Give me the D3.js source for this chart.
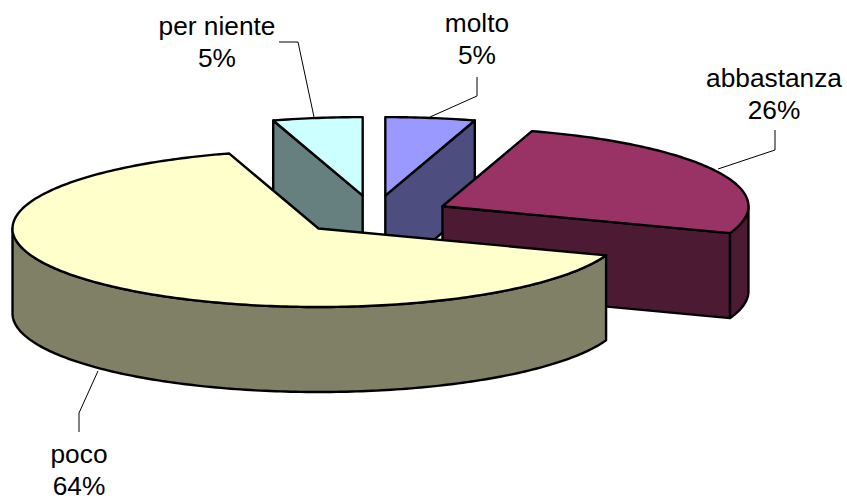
<!DOCTYPE html>
<html>
<head>
<meta charset="utf-8">
<script src="https://cdn.jsdelivr.net/npm/d3@7"></script>
<style>
  html, body { margin: 0; background: #fff; }
  text { font-family: "Liberation Sans", Arial, sans-serif; font-size: 26.3px; fill: #000; }
</style>
</head>
<body>
<div id="chart"></div>
<script>
// values
const categories = ["molto", "abbastanza", "poco", "per niente"];
const values = [4.7, 25.7, 64.4, 4.7];
const topColors = ["#9999ff", "#993366", "#ffffcc", "#ccffff"];
const sideColors = ["#4d4d80", "#4d1a33", "#808066", "#668080"];

// layout of the labels and their leader lines, same order as categories
const labelX = [477, 774, 79, 217];
const labelY = [32, 87, 463, 35];
const leaders = [
  [[430, 117], [477, 96], [477, 77]],
  [[718, 169], [775, 150], [775, 130]],
  [[98, 371], [79, 413], [79, 432]],
  [[279, 42], [298, 42], [314, 117]]
];

const width = 847, height = 500;
const centerX = 374, centerY = 215;
const depth = 85;
const explode = 0.25;

const svg = d3.select("#chart").append("svg")
    .attr("width", width)
    .attr("height", height)
    .style("display", "block");

// tilted pie: sin/cos of the angle go to pixels on an ellipse
const xScale = d3.scaleLinear().domain([-1, 1]).range([-306, 306]);
const yScale = d3.scaleLinear().domain([-1, 1]).range([78.5, -78.5]);

const pie = d3.pie().sort(null);
const slices = pie(values).map(function(d, i) {
    const mid = (d.startAngle + d.endAngle) / 2;
    d.name = categories[i];
    d.index = i;
    d.apexX = centerX + explode * xScale(Math.sin(mid));
    d.apexY = centerY + explode * yScale(Math.cos(mid));
    return d;
});

const line = d3.line();

function rim(d, a, drop) {
    return [d.apexX + xScale(Math.sin(a)), d.apexY + yScale(Math.cos(a)) + drop];
}

function arcPoints(d, a0, a1, drop) {
    const n = Math.max(2, Math.ceil((a1 - a0) * 60));
    return d3.range(n + 1).map(function(k) {
        return rim(d, a0 + (a1 - a0) * k / n, drop);
    });
}

function topFace(d) {
    return line([[d.apexX, d.apexY]].concat(arcPoints(d, d.startAngle, d.endAngle, 0))) + "Z";
}

function cutFace(d, a) {
    return line([
        [d.apexX, d.apexY],
        rim(d, a, 0),
        rim(d, a, depth),
        [d.apexX, d.apexY + depth]
    ]) + "Z";
}

// only the front half of the rim can be seen
function outerWall(d) {
    const a0 = Math.max(d.startAngle, Math.PI / 2);
    const a1 = Math.min(d.endAngle, 3 * Math.PI / 2);
    if (a1 <= a0) return null;
    return line(arcPoints(d, a0, a1, 0).concat(arcPoints(d, a0, a1, depth).reverse())) + "Z";
}

const drawOrder = slices.slice().sort(function(a, b) { return d3.ascending(a.apexY, b.apexY); });

const groups = svg.selectAll("g.slice")
    .data(drawOrder)
    .enter().append("g")
    .attr("class", "slice")
    .attr("stroke", "#000")
    .attr("stroke-width", 2.4)
    .attr("stroke-linejoin", "round");

// cut side facing the viewer
groups.append("path")
    .attr("d", function(d) {
        if (d.endAngle < Math.PI) return cutFace(d, d.endAngle);
        if (d.startAngle > Math.PI) return cutFace(d, d.startAngle);
        return null;
    })
    .attr("fill", function(d) { return sideColors[d.index]; });

groups.append("path")
    .attr("d", outerWall)
    .attr("fill", function(d) { return sideColors[d.index]; });

groups.append("path")
    .attr("d", topFace)
    .attr("fill", function(d) { return topColors[d.index]; });

// leader lines
svg.selectAll("path.leader")
    .data(leaders)
    .enter().append("path")
    .attr("class", "leader")
    .attr("d", line)
    .attr("fill", "none")
    .attr("stroke", "#000")
    .attr("stroke-width", 1);

// labels, name on top of the rounded percentage
const labels = svg.selectAll("text.label")
    .data(slices)
    .enter().append("text")
    .attr("class", "label")
    .attr("text-anchor", "middle")
    .attr("x", function(d) { return labelX[d.index]; })
    .attr("y", function(d) { return labelY[d.index]; });

labels.append("tspan")
    .text(function(d) { return d.name; });

labels.append("tspan")
    .attr("x", function(d) { return labelX[d.index]; })
    .attr("dy", 32)
    .text(function(d) { return Math.round(d.value) + "%"; });
</script>
</body>
</html>
